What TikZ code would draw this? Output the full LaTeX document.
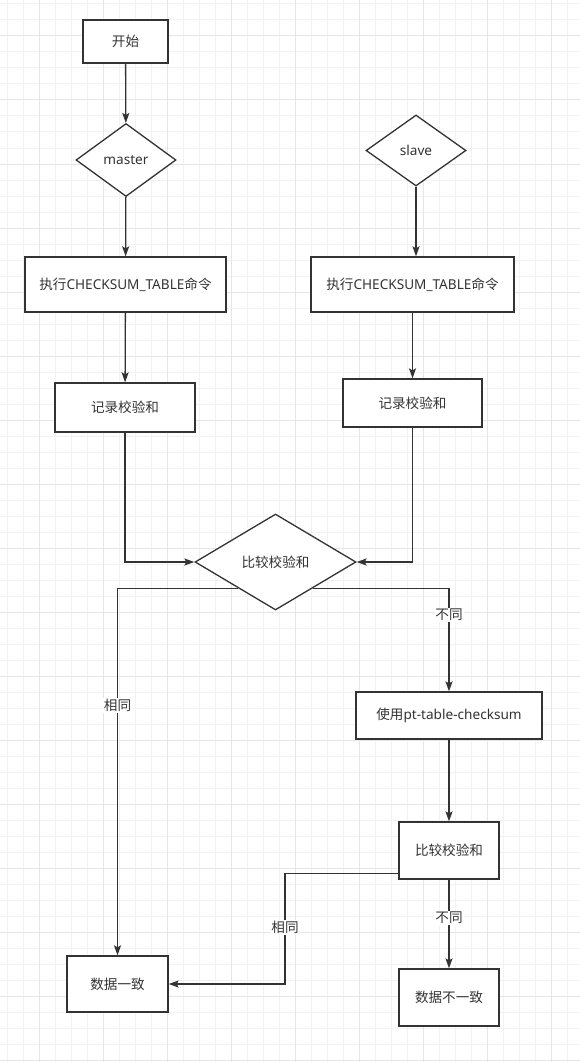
\documentclass[tikz,border=0pt]{standalone}
\usepackage{fontspec}
\setmainfont{Noto Sans}
\newfontfamily\cjk{Noto Sans CJK SC}
\usetikzlibrary{arrows.meta,calc,shapes.geometric}
\definecolor{ln}{HTML}{333333}
\definecolor{gmin}{HTML}{F2F2F2}
\definecolor{gmaj}{HTML}{E6E6E6}
\begin{document}
\begin{tikzpicture}[x=1pt,y=-1pt,
  box/.style={draw=ln,line width=1.3pt,fill=white,inner sep=0pt,text=ln,font=\fontsize{13.6}{16}\selectfont},
  dia/.style={box,diamond},
  arr/.style={draw=ln,line width=1.3pt,-{Stealth[length=10pt,width=7pt,inset=2pt]}},
  lbl/.style={fill=white,inner sep=1pt,text=ln,font=\fontsize{13.6}{16}\selectfont\cjk}]
\useasboundingbox (0,0) rectangle (580,1062);
\fill[white] (0,0) rectangle (580,1062);
\foreach \x in {7,23,...,580} \draw[gmin,line width=1pt] (\x,0) -- (\x,1062);
\foreach \y in {4,20,...,1062} \draw[gmin,line width=1pt] (0,\y) -- (580,\y);
\foreach \x in {39,103,...,580} \draw[gmaj,line width=1pt] (\x,0) -- (\x,1062);
\foreach \y in {36,100,...,1062} \draw[gmaj,line width=1pt] (0,\y) -- (580,\y);

\node[box,minimum width=85pt,minimum height=43pt] (start) at (125.5,41.5) {\cjk 开始};
\node[dia,minimum width=100pt,minimum height=73pt,aspect=1.37] (master) at (126,160) {master};
\node[dia,minimum width=100pt,minimum height=71pt,aspect=1.41] (slave) at (416,150.5) {slave};
\node[box,minimum width=201pt,minimum height=55pt] (execL) at (125.5,284.5) {{\cjk 执行}CHECKSUM\_TABLE{\cjk 命令}};
\node[box,minimum width=203pt,minimum height=55pt] (execR) at (412.5,284.5) {{\cjk 执行}CHECKSUM\_TABLE{\cjk 命令}};
\node[box,minimum width=140pt,minimum height=49pt] (recL) at (125,407.5) {\cjk 记录校验和};
\node[box,minimum width=139pt,minimum height=48pt] (recR) at (412.5,403) {\cjk 记录校验和};
\node[dia,minimum width=161pt,minimum height=96pt,aspect=1.68] (cmp) at (275.5,562) {\cjk 比较校验和};
\node[box,minimum width=186pt,minimum height=47pt] (pt) at (449,715.5) {{\cjk 使用}pt-table-checksum};
\node[box,minimum width=100pt,minimum height=57pt] (cmp2) at (449,850.5) {\cjk 比较校验和};
\node[box,minimum width=101pt,minimum height=56pt] (ok) at (117.5,984) {\cjk 数据一致};
\node[box,minimum width=100pt,minimum height=57pt] (nok) at (449,997.5) {\cjk 数据不一致};

\draw[arr] (start) -- (master);
\draw[arr] (master) -- (execL);
\draw[arr] (slave.south) -- (slave.south |- execR.north);
\draw[arr] (execL) -- (recL);
\draw[arr] (execR) -- (recR);
\draw[arr] (recL.south) |- (cmp.west);
\draw[arr] (recR.south) |- (cmp.east);
\coordinate (cl) at ($(cmp.west)!0.54!(cmp.south)$);
\coordinate (cr) at ($(cmp.east)!0.54!(cmp.south)$);
\draw[arr] (cl) -| node[lbl,pos=0.66]{相同} (ok.north);
\draw[arr] (cr) -| node[lbl,pos=0.63]{不同} (pt.north);
\draw[arr] (pt) -- (cmp2);
\draw[arr] (cmp2) -- node[lbl,pos=0.43]{不同} (nok);
\coordinate (p) at ($(cmp2.south west)!0.105!(cmp2.north west)$);
\coordinate (k) at (285,984);
\draw[arr] (p) -| node[lbl,pos=0.745]{相同} (k) -- (ok.east);
\end{tikzpicture}
\end{document}
